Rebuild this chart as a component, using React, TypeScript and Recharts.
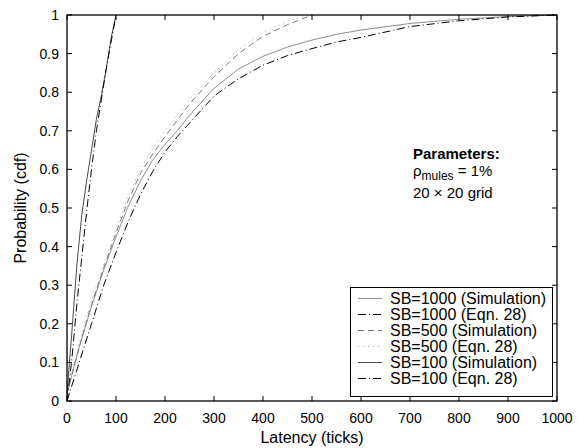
import React from 'react';
import { LineChart, Line, XAxis, YAxis, Legend } from 'recharts';

// Axis ticks
const latencyTicks = [0, 100, 200, 300, 400, 500, 600, 700, 800, 900, 1000];
const probabilityTicks = [0, 0.1, 0.2, 0.3, 0.4, 0.5, 0.6, 0.7, 0.8, 0.9, 1];
const latencyDomain = [0, 1000];
const probabilityDomain = [0, 1];

// SB = 1000
const sb1000Latency = [0, 25, 50, 75, 100, 125, 150, 175, 200, 225, 250, 300, 350, 400, 450, 500, 550, 600, 700, 800, 900, 1000];
const sb1000Simulation = [0.02, 0.14, 0.245, 0.34, 0.425, 0.505, 0.57, 0.625, 0.665, 0.7, 0.74, 0.81, 0.86, 0.893, 0.917, 0.935, 0.95, 0.961, 0.978, 0.989, 0.996, 1.0];
const sb1000Equation = [0.0, 0.1, 0.2, 0.3, 0.385, 0.465, 0.535, 0.595, 0.645, 0.685, 0.72, 0.79, 0.835, 0.87, 0.895, 0.913, 0.93, 0.942, 0.97, 0.985, 0.995, 1.0];

// SB = 500
const sb500Latency = [0, 25, 50, 75, 100, 125, 150, 175, 200, 250, 300, 350, 400, 450, 500];
const sb500Simulation = [0.02, 0.14, 0.25, 0.345, 0.435, 0.52, 0.59, 0.64, 0.685, 0.77, 0.84, 0.9, 0.945, 0.975, 1.0];
const sb500Equation = [0.03, 0.15, 0.26, 0.355, 0.445, 0.53, 0.6, 0.655, 0.7, 0.78, 0.85, 0.91, 0.955, 0.985, 1.0];

// SB = 100
const sb100Latency = [0, 10, 20, 30, 40, 50, 60, 70, 80, 90, 100];
const sb100Simulation = [0.02, 0.18, 0.35, 0.48, 0.57, 0.65, 0.73, 0.79, 0.86, 0.94, 1.0];
const sb100Equation = [0.0, 0.11, 0.25, 0.37, 0.49, 0.6, 0.7, 0.78, 0.86, 0.93, 1.0];

const toPoints = (latency: number[], cdf: number[]) =>
  latency.map((t, i) => ({ t, p: cdf[i] }));

const FONT = '"Liberation Sans", Arial, Helvetica, sans-serif';

type Series = {
  name: string;
  data: { t: number; p: number }[];
  stroke: string;
  dash?: string;
};

const series: Series[] = [
  { name: 'SB=1000 (Simulation)', data: toPoints(sb1000Latency, sb1000Simulation), stroke: '#8f8f8f' },
  { name: 'SB=1000 (Eqn. 28)', data: toPoints(sb1000Latency, sb1000Equation), stroke: '#000000', dash: '8 3 1 3' },
  { name: 'SB=500 (Simulation)', data: toPoints(sb500Latency, sb500Simulation), stroke: '#7a7a7a', dash: '6 4' },
  { name: 'SB=500 (Eqn. 28)', data: toPoints(sb500Latency, sb500Equation), stroke: '#a8a8a8', dash: '1 4' },
  { name: 'SB=100 (Simulation)', data: toPoints(sb100Latency, sb100Simulation), stroke: '#4a4a4a' },
  { name: 'SB=100 (Eqn. 28)', data: toPoints(sb100Latency, sb100Equation), stroke: '#000000', dash: '8 3 1 3' },
];

const TICK_LEN = 5;
const CHART_MARGIN = { top: 15, right: 29, bottom: 17, left: 10 };
const X_AXIS_HEIGHT = 30;
const Y_AXIS_WIDTH = 57;
const CHART_W = 586;
const CHART_H = 448;

// Plot rectangle implied by the chart margins and axis sizes
const PLOT = {
  x: CHART_MARGIN.left + Y_AXIS_WIDTH,
  y: CHART_MARGIN.top,
  width: CHART_W - CHART_MARGIN.left - CHART_MARGIN.right - Y_AXIS_WIDTH,
  height: CHART_H - CHART_MARGIN.top - CHART_MARGIN.bottom - X_AXIS_HEIGHT,
};

const BottomTick = (props: any) => {
  const { x, y, payload } = props;
  return (
    <text x={x} y={y + 22} textAnchor="middle" fontSize={14} fontFamily={FONT} fill="#000">
      {String(payload.value)}
    </text>
  );
};

const LeftTick = (props: any) => {
  const { x, y, payload } = props;
  return (
    <text x={x - 8} y={y + 5} textAnchor="end" fontSize={14} fontFamily={FONT} fill="#000">
      {String(payload.value)}
    </text>
  );
};

const XTitle = (props: any) => {
  const vb = props.viewBox || {};
  return (
    <text x={vb.x + vb.width / 2} y={vb.y + 42} textAnchor="middle" fontSize={16} fontFamily={FONT} fill="#000">
      Latency (ticks)
    </text>
  );
};

const YTitle = (props: any) => {
  const vb = props.viewBox || {};
  const cx = vb.x + 16;
  const cy = vb.y + vb.height / 2;
  return (
    <text
      x={cx}
      y={cy}
      textAnchor="middle"
      fontSize={16}
      fontFamily={FONT}
      fill="#000"
      transform={`rotate(-90 ${cx} ${cy})`}
    >
      Probability (cdf)
    </text>
  );
};

// Box around the plot with inward ticks on all four sides
const PlotFrame = () => {
  const box = PLOT;
  const sx = (t: number) =>
    box.x + ((t - latencyDomain[0]) / (latencyDomain[1] - latencyDomain[0])) * box.width;
  const sy = (p: number) =>
    box.y + box.height - ((p - probabilityDomain[0]) / (probabilityDomain[1] - probabilityDomain[0])) * box.height;
  const bottom = box.y + box.height;
  const right = box.x + box.width;
  return (
    <g>
      {latencyTicks.map((t) => (
        <g key={`xt-${t}`}>
          <line x1={sx(t)} x2={sx(t)} y1={bottom} y2={bottom - TICK_LEN} stroke="#000" strokeWidth={1} />
          <line x1={sx(t)} x2={sx(t)} y1={box.y} y2={box.y + TICK_LEN} stroke="#000" strokeWidth={1} />
        </g>
      ))}
      {probabilityTicks.map((p) => (
        <g key={`yt-${p}`}>
          <line x1={box.x} x2={box.x + TICK_LEN} y1={sy(p)} y2={sy(p)} stroke="#000" strokeWidth={1} />
          <line x1={right} x2={right - TICK_LEN} y1={sy(p)} y2={sy(p)} stroke="#000" strokeWidth={1} />
        </g>
      ))}
      <rect
        x={box.x}
        y={box.y}
        width={box.width}
        height={box.height}
        fill="none"
        stroke="#000"
        strokeWidth={1.3}
      />
    </g>
  );
};

const LegendBox = () => (
  <svg width={203} height={110} style={{ display: 'block', overflow: 'visible' }}>
    <rect x={0.5} y={0.5} width={202} height={109} fill="#fff" stroke="#000" strokeWidth={1} />
    {series.map((s, i) => {
      const cy = 11.5 + i * 16;
      return (
        <g key={s.name}>
          <line x1={8} x2={32} y1={cy} y2={cy} stroke={s.stroke} strokeDasharray={s.dash} />
          <text x={40} y={cy + 5.5} fontSize={16} fontFamily={FONT} fill="#000">{s.name}</text>
        </g>
      );
    })}
  </svg>
);

export default function App() {
  return (
    <div style={{ position: 'absolute', left: 0, top: 0, width: CHART_W, height: CHART_H }}>
      <LineChart width={CHART_W} height={CHART_H} margin={CHART_MARGIN}>
        <XAxis
          type="number"
          dataKey="t"
          domain={latencyDomain}
          ticks={latencyTicks}
          interval={0}
          height={X_AXIS_HEIGHT}
          tickSize={0}
          tickMargin={0}
          tickLine={false}
          axisLine={false}
          tick={BottomTick}
          label={{ content: XTitle }}
        />
        <YAxis
          type="number"
          domain={probabilityDomain}
          ticks={probabilityTicks}
          interval={0}
          width={Y_AXIS_WIDTH}
          tickSize={0}
          tickMargin={0}
          tickLine={false}
          axisLine={false}
          tick={LeftTick}
          label={{ content: YTitle }}
        />
        {series.map((s) => (
          <Line
            key={s.name}
            data={s.data}
            dataKey="p"
            name={s.name}
            type="linear"
            stroke={s.stroke}
            strokeWidth={1}
            strokeDasharray={s.dash}
            dot={false}
            activeDot={false}
            isAnimationActive={false}
          />
        ))}
        <Legend
          layout="vertical"
          align="center"
          verticalAlign="middle"
          content={LegendBox}
          wrapperStyle={{ position: 'absolute', left: 349.5, top: 286.5, width: 203, height: 110, margin: 0, padding: 0 }}
        />
      </LineChart>
      {/* frame and parameter note */}
      <svg
        width={CHART_W}
        height={CHART_H}
        style={{ position: 'absolute', left: 0, top: 0, pointerEvents: 'none' }}
      >
        <PlotFrame />
        <g fontFamily={FONT} fill="#000">
          <text x={413} y={159} fontSize={15} fontWeight="bold">Parameters:</text>
          <text x={413} y={176} fontSize={15}>
            ρ<tspan dy={4} fontSize={12}>mules</tspan>
            <tspan dy={-4}> = 1%</tspan>
          </text>
          <text x={413} y={198} fontSize={15}>20 × 20 grid</text>
        </g>
      </svg>
    </div>
  );
}
